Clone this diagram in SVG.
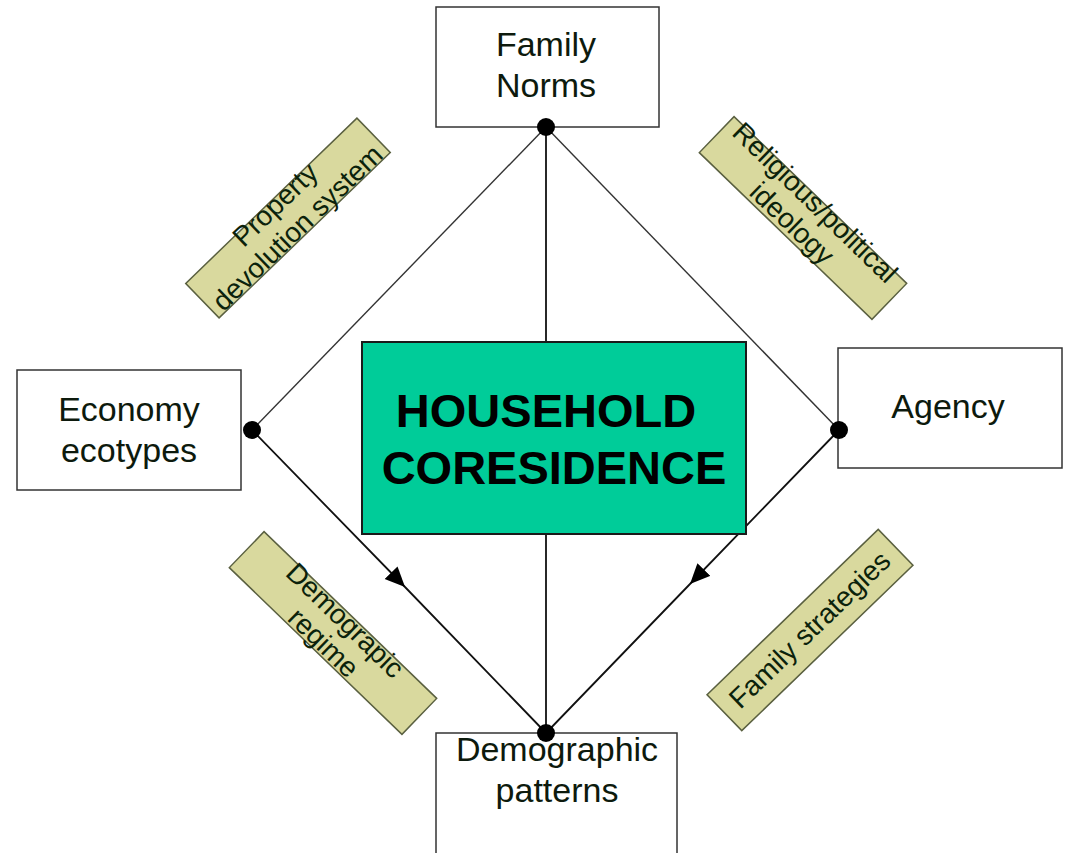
<svg xmlns="http://www.w3.org/2000/svg" width="1067" height="853" viewBox="0 0 1067 853">
  <defs>
    <marker id="arrow" markerUnits="userSpaceOnUse" markerWidth="22" markerHeight="20" refX="20" refY="9" orient="auto">
      <path d="M0,0 L20,9 L0,18 Z" fill="#000"/>
    </marker>
    <style>
      .box { fill: #fff; stroke: #333; stroke-width: 1.5; }
      .core { fill: #00cc99; stroke: #1a1a1a; stroke-width: 2; }
      .tag { fill: #d9d99e; stroke: #5a6040; stroke-width: 1.5; }
      .ntext { font-family: "Liberation Sans", Arial, sans-serif; font-size: 34px; fill: #0d1a0d; text-anchor: middle; }
      .ttext { font-family: "Liberation Sans", Arial, sans-serif; font-size: 28px; fill: #0b220b; text-anchor: middle; }
      .ctext { font-family: "Liberation Sans", Arial, sans-serif; font-size: 47px; font-weight: bold; fill: #000; text-anchor: middle; }
      .thin { stroke: #333; stroke-width: 1.4; fill: none; }
      .link { stroke: #111; stroke-width: 1.8; fill: none; }
      .dot { fill: #000; }
    </style>
  </defs>

  <rect width="1067" height="853" fill="#fff"/>

  <!-- connectors -->
  <g id="connectors">
    <line class="thin" x1="546" y1="127" x2="252" y2="430"/>
    <line class="thin" x1="546" y1="127" x2="839" y2="430"/>
    <line class="link" x1="546" y1="127" x2="546" y2="342"/>
    <line class="link" x1="546" y1="534" x2="546" y2="733"/>
    <path class="link" d="M252,430 L405,587 L546,733" marker-mid="url(#arrow)"/>
    <path class="link" d="M839,430 L690,584 L546,733" marker-mid="url(#arrow)"/>
  </g>

  <!-- nodes -->
  <g id="family-norms">
    <rect class="box" x="436" y="7" width="223" height="120"/>
    <text class="ntext" x="546" y="56">Family</text>
    <text class="ntext" x="546" y="97">Norms</text>
  </g>

  <g id="economy-ecotypes">
    <rect class="box" x="17" y="370" width="224" height="120"/>
    <text class="ntext" x="129" y="421">Economy</text>
    <text class="ntext" x="129" y="462">ecotypes</text>
  </g>

  <g id="agency">
    <rect class="box" x="838" y="348" width="224" height="120"/>
    <text class="ntext" x="948" y="418">Agency</text>
  </g>

  <g id="demographic-patterns">
    <rect class="box" x="436" y="733" width="241" height="130"/>
    <text class="ntext" x="557" y="761">Demographic</text>
    <text class="ntext" x="557" y="802">patterns</text>
  </g>

  <g id="household-coresidence">
    <rect class="core" x="362" y="342" width="384" height="192"/>
    <text class="ctext" x="546" y="427">HOUSEHOLD</text>
    <text class="ctext" x="554" y="484">CORESIDENCE</text>
  </g>

  <!-- connector labels -->
  <g id="label-property" transform="translate(288,218) rotate(-44)">
    <rect class="tag" x="-119" y="-24" width="238" height="48"/>
    <text class="ttext" x="0" y="-9">Property</text>
    <text class="ttext" x="0" y="23">devolution system</text>
  </g>

  <g id="label-religious" transform="translate(803,218) rotate(44)">
    <rect class="tag" x="-120" y="-25" width="240" height="50"/>
    <text class="ttext" x="-2" y="-10">Religious/political</text>
    <text class="ttext" x="-4" y="21">ideology</text>
  </g>

  <g id="label-demographic-regime" transform="translate(333,633) rotate(44)">
    <rect class="tag" x="-120" y="-25" width="240" height="50"/>
    <text class="ttext" x="0" y="-8">Demograpic</text>
    <text class="ttext" x="0" y="23">regime</text>
  </g>

  <g id="label-family-strategies" transform="translate(810,630) rotate(-44)">
    <rect class="tag" x="-119" y="-25" width="238" height="50"/>
    <text class="ttext" x="0" y="9">Family strategies</text>
  </g>

  <!-- junction dots -->
  <g id="junctions">
    <circle class="dot" cx="546" cy="127" r="9"/>
    <circle class="dot" cx="252" cy="430" r="9"/>
    <circle class="dot" cx="839" cy="430" r="9"/>
    <circle class="dot" cx="546" cy="733" r="9"/>
  </g>
</svg>
